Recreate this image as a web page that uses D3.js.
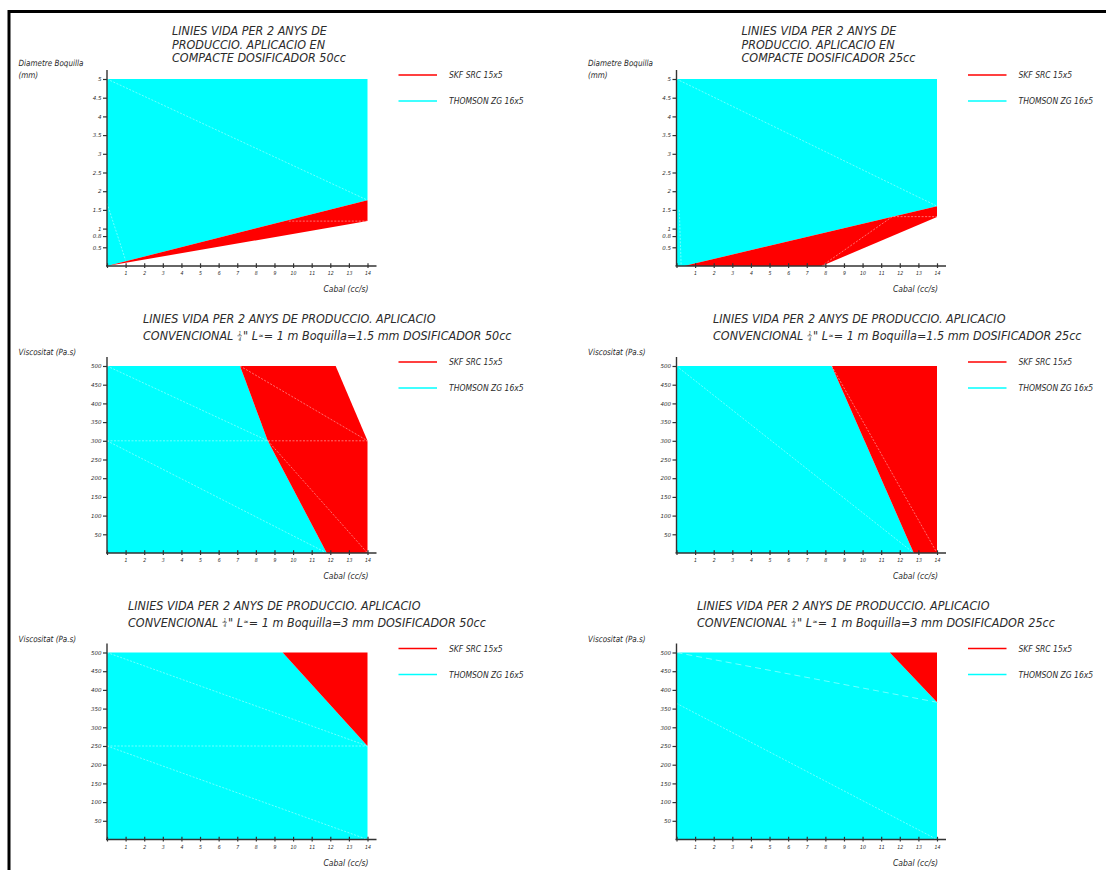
<!DOCTYPE html>
<meta charset="utf-8">
<style>
  body { margin: 0; background: #fff; }
  svg { display: block; }
  text { font-family: "DejaVu Sans", sans-serif; font-style: italic; fill: #2b2b2b; white-space: pre; }
</style>
<body>
<div id="chart"></div>
<script src="https://d3js.org/d3.v7.min.js"></script>
<script>
// ---- data ----
var cabalTicks = d3.range(0, 15);
var diametreTicks = [0.5, 0.8, 1, 1.5, 2, 2.5, 3, 3.5, 4, 4.5, 5];
var viscositatTicks = [50, 100, 150, 200, 250, 300, 350, 400, 450, 500];
var seriesNames = ["SKF SRC 15x5", "THOMSON ZG 16x5"];

var titles = [
  ["LINIES VIDA PER 2 ANYS DE", "PRODUCCIO. APLICACIO EN", "COMPACTE DOSIFICADOR 50cc"],
  ["LINIES VIDA PER 2 ANYS DE", "PRODUCCIO. APLICACIO EN", "COMPACTE DOSIFICADOR 25cc"],
  ["LINIES VIDA PER 2 ANYS DE PRODUCCIO. APLICACIO", "CONVENCIONAL ¼\" L≈= 1 m Boquilla=1.5 mm DOSIFICADOR 50cc"],
  ["LINIES VIDA PER 2 ANYS DE PRODUCCIO. APLICACIO", "CONVENCIONAL ¼\" L≈= 1 m Boquilla=1.5 mm DOSIFICADOR 25cc"],
  ["LINIES VIDA PER 2 ANYS DE PRODUCCIO. APLICACIO", "CONVENCIONAL ¼\" L≈= 1 m Boquilla=3 mm DOSIFICADOR 50cc"],
  ["LINIES VIDA PER 2 ANYS DE PRODUCCIO. APLICACIO", "CONVENCIONAL ¼\" L≈= 1 m Boquilla=3 mm DOSIFICADOR 25cc"]
];
var yLabelDiametre = ["Diametre Boquilla", "(mm)"];
var yLabelViscositat = ["Viscositat (Pa.s)"];
var xLabel = "Cabal (cc/s)";

// zones as [cabal, value] vertices, one per panel
var thomsonZones = [
  [[0, 0], [0, 5], [14, 5], [14, 1.76]],
  [[0, 0], [0, 5], [14, 5], [14, 1.6], [0.4, 0]],
  [[0, 0], [0, 500], [7.15, 500], [8.64, 300], [11.81, 0]],
  [[0, 0], [0, 500], [8.34, 500], [12.75, 0]],
  [[0, 0], [0, 500], [9.44, 500], [14, 250], [14, 0]],
  [[0, 0], [0, 500], [11.46, 500], [14, 367], [14, 0]]
];
var skfZones = [
  [[0, 0], [14, 1.76], [14, 1.2]],
  [[0.4, 0], [14, 1.6], [14, 1.31], [7.8, 0]],
  [[7.15, 500], [12.29, 500], [14, 300], [14, 0], [11.81, 0], [8.64, 300]],
  [[8.34, 500], [14, 500], [14, 0], [12.75, 0]],
  [[9.44, 500], [14, 500], [14, 250]],
  [[11.46, 500], [14, 500], [14, 367]]
];
// light seams left inside the fills
var fillSeams = [
  [[[0, 5], [14, 1.76]], [[0, 1.68], [1, 0.15]], [[9.77, 1.2], [14, 1.2]]],
  [[[0, 5], [14, 1.6]], [[0.15, 1.5], [0.25, 0]], [[7.8, 0], [11.6, 1.32], [14, 1.32]]],
  [[[0, 300], [14, 300]], [[0, 500], [8.64, 300]], [[7.15, 500], [14, 300]], [[0, 300], [11.81, 0]], [[8.64, 300], [14, 0]]],
  [[[0, 500], [12.75, 0]], [[8.34, 500], [14, 0]]],
  [[[0, 250], [14, 250]], [[0, 500], [14, 250]], [[0, 250], [14, 0]]],
  [[[0, 500], [14, 367]], [[0, 364], [14, 0]]]
];

// ---- layout ----
var W = 1106, H = 870;
var colLeft = [107, 676.5], plotW = 260.5;
var rowTop = [79, 366, 652.5], plotH = 187;
var titleDx = [65, 65, 36, 36.5, 21, 20.5];
var NARROW = 0.85;
var RED = "#ff0000", CYAN = "#00ffff";

var svg = d3.select("#chart").append("svg")
    .attr("width", W)
    .attr("height", H);

// drawing frame
svg.append("path")
    .attr("d", "M9," + H + "V11.5H" + W)
    .attr("fill", "none")
    .attr("stroke", "#000")
    .attr("stroke-width", 3);

function label(g, x, y, str, size, anchor, sx) {
    return g.append("text")
        .attr("transform", "translate(" + x + "," + y + ") scale(" + (sx || NARROW) + ",1)")
        .attr("text-anchor", anchor || "start")
        .style("font-size", size + "px")
        .text(str);
}

// title line with stacked 1/4 and the small "approx" sign
function titleLine(g, x, y, str) {
    var sx = 0.95;
    str.split(/(¼|≈)/).forEach(function (p) {
        if (!p) return;
        var t;
        if (p === "¼") {
            label(g, x + 1.5, y - 5, "1", 5);
            g.append("line")
                .attr("x1", x + 0.5).attr("x2", x + 5)
                .attr("y1", y - 4.2).attr("y2", y - 4.2)
                .attr("stroke", "#333").attr("stroke-width", 0.6);
            label(g, x + 1.5, y + 0.5, "4", 5);
            x += 6;
        } else if (p === "≈") {
            t = label(g, x + 0.5, y - 2.5, "≈", 7);
            x += t.node().getComputedTextLength() * NARROW + 1;
        } else {
            t = label(g, x, y, p, 11.8, "start", sx);
            x += t.node().getComputedTextLength() * sx;
        }
    });
}

var line = d3.line();

titles.forEach(function (title, i) {
    var row = Math.floor(i / 2), col = i % 2;
    var left = colLeft[col], top = rowTop[row], bottom = top + plotH, right = left + plotW;
    var isDiam = i < 2;

    var x = d3.scaleLinear().domain([0, 14]).range([left, right]);
    var y = d3.scaleLinear().domain(isDiam ? [0, 5] : [0, 500]).range([bottom, top]);
    var pt = function (d) { return [x(d[0]), y(d[1])]; };

    var g = svg.append("g");

    // fills
    g.append("path")
        .attr("d", line(thomsonZones[i].map(pt)) + "Z")
        .attr("fill", CYAN);
    g.append("path")
        .attr("d", line(skfZones[i].map(pt)) + "Z")
        .attr("fill", RED);
    g.selectAll(".seam")
        .data(fillSeams[i])
        .enter().append("path")
        .attr("class", "seam")
        .attr("d", function (d) { return line(d.map(pt)); })
        .attr("fill", "none")
        .attr("stroke", "#fff")
        .attr("stroke-opacity", 0.55)
        .attr("stroke-width", 0.8)
        .attr("stroke-dasharray", function (d, j) { return i === 5 && j === 0 ? "6,4" : "2,1.5"; });

    // axes
    var xAxis = g.append("g")
        .attr("transform", "translate(0," + bottom + ")")
        .call(d3.axisBottom(x)
            .tickValues(cabalTicks)
            .tickSizeInner(2)
            .tickSizeOuter(0)
            .tickPadding(3.5)
            .tickFormat(function (d) { return d === 0 ? "" : d; }));
    xAxis.select(".domain").remove();
    xAxis.selectAll(".tick line").attr("y1", -2.7).attr("stroke", "#333").attr("stroke-width", 1.2);
    xAxis.selectAll(".tick text")
        .attr("transform", "scale(" + NARROW + ",1)")
        .style("font-size", "5.5px")
        .attr("fill", "#444");

    var yAxis = g.append("g")
        .attr("transform", "translate(" + left + ",0)")
        .call(d3.axisLeft(y)
            .tickValues(isDiam ? diametreTicks : viscositatTicks)
            .tickSizeInner(4)
            .tickSizeOuter(0)
            .tickPadding(1.5)
            .tickFormat(function (d) { return String(d); }));
    yAxis.select(".domain").remove();
    yAxis.selectAll(".tick line").attr("stroke", "#333").attr("stroke-width", 1.2);
    yAxis.selectAll(".tick text")
        .style("font-size", "5.5px")
        .attr("fill", "#444");

    g.append("line")
        .attr("x1", left).attr("x2", left)
        .attr("y1", bottom).attr("y2", top - 9)
        .attr("stroke", "#333").attr("stroke-width", 1.4);
    g.append("line")
        .attr("x1", left - 1).attr("x2", right + 9)
        .attr("y1", bottom).attr("y2", bottom)
        .attr("stroke", "#333").attr("stroke-width", 1.4);

    // axis titles
    label(g, right + 1, bottom + 26, xLabel, 9, "end");
    if (isDiam) {
        label(g, left - 88.5, top - 13, yLabelDiametre[0], 8.5);
        label(g, left - 88.5, top - 1.5, yLabelDiametre[1], 8.5);
    } else {
        label(g, left - 88.5, top - 11, yLabelViscositat[0], 8.5);
    }

    // title
    var tx = left + titleDx[i];
    var ty = isDiam ? [top - 44.3, top - 30.5, top - 16.7] : [top - 43, top - 26];
    title.forEach(function (s, k) { titleLine(g, tx, ty[k], s); });

    // legend
    [RED, CYAN].forEach(function (c, k) {
        var ly = top - 4 + k * 26;
        g.append("line")
            .attr("x1", right + 31).attr("x2", right + 69.5)
            .attr("y1", ly).attr("y2", ly)
            .attr("stroke", c).attr("stroke-width", 1.6);
        label(g, right + 81.5, ly + 3.4, seriesNames[k], 9);
    });
});
</script>
</body>
